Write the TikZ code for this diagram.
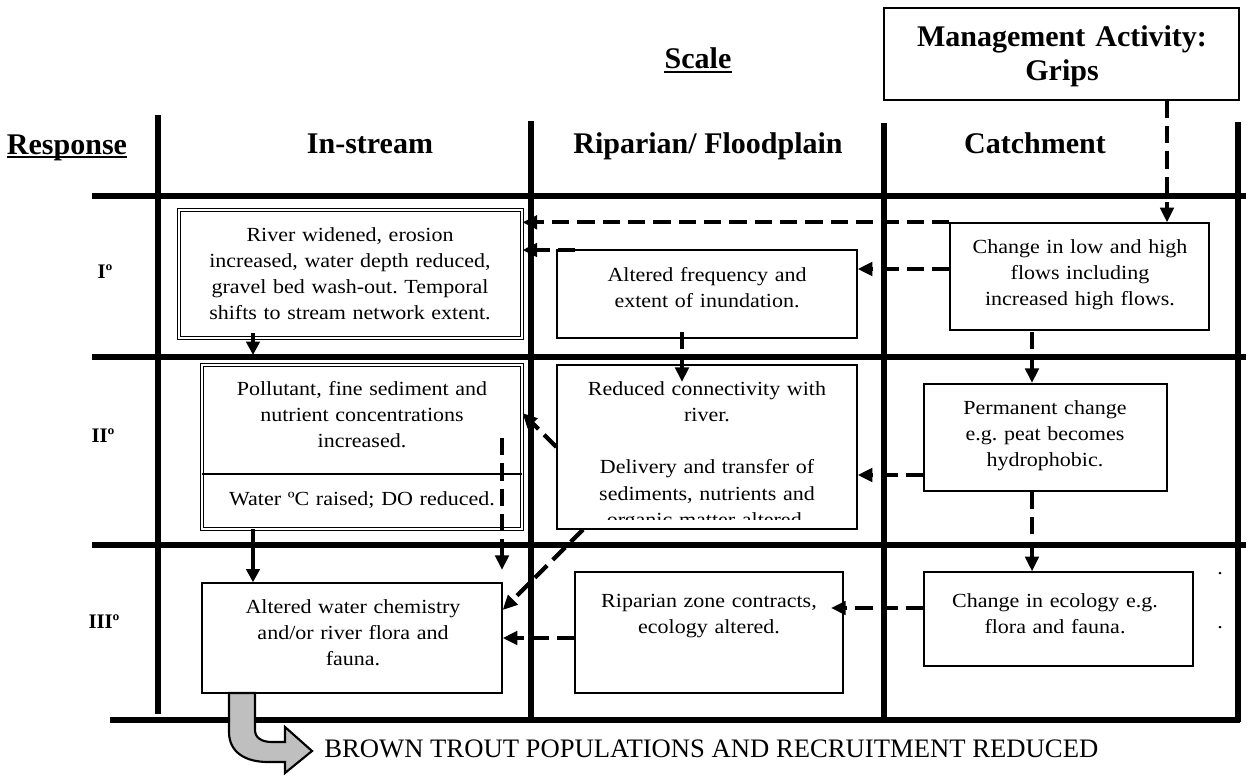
\documentclass[tikz,border=0pt]{standalone}
\usepackage{fontspec}
\setmainfont{Liberation Serif}
\newfontfamily\bodyfont{Liberation Serif}[FakeStretch=1.1]
\usetikzlibrary{arrows.meta,fit}
\begin{document}
\begin{tikzpicture}[x=0.75pt,y=-0.75pt,
  gridline/.style={line width=4pt},
  box/.style={draw,line width=1pt,fill=white,inner sep=0pt},
  dbox/.style={draw,double,double distance=1.1pt,line width=0.6pt,fill=white,inner sep=0pt},
  txt/.style={anchor=base,align=center,text width=280pt,inner sep=0pt,font=\bodyfont\fontsize{15}{19.7}\selectfont\frenchspacing},
  hdr/.style={anchor=base,inner sep=0pt,font=\fontsize{22.5}{25.5}\selectfont\bfseries},
  rowlab/.style={anchor=base,inner sep=0pt,font=\fontsize{15.5}{18}\selectfont\bfseries},
  darr/.style={line width=3.2pt,dash pattern=on 13pt off 6pt,-{Triangle[length=11pt,width=10pt]}},
  sarr/.style={line width=2.5pt,-{Triangle[length=10pt,width=10pt]}},
]
\useasboundingbox (0,0) rectangle (1248,775);

% grid
\draw[gridline] (158,115) -- (158,714);
\draw[gridline] (531,121) -- (531,720);
\draw[gridline] (884,123) -- (884,720);
\draw[gridline] (1238,122) -- (1238,722);
\draw[gridline] (92,196) -- (1246,196);
\draw[gridline] (92,357) -- (1246,357);
\draw[gridline] (92,545) -- (1246,545);
\draw[gridline] (110,720) -- (1240,720);

% headers
\node[hdr] (scl) at (698,68) {Scale};
\draw[line width=1.5pt] ([yshift=-3pt]scl.base west) -- ([yshift=-3pt]scl.base east);
\node[box, fit={(884,8) (1239,100)}] (M) {};
\node[hdr,align=center,text width=330pt] (Mt) at (1062,46) {Management Activity:\\Grips};
\node[hdr] (resp) at (67,154) {Response};
\draw[line width=1.5pt] ([yshift=-2.5pt]resp.base west) -- ([yshift=-2.5pt]resp.base east);
\node[hdr] (h1) at (370,153) {In-stream};
\node[hdr] (h2) at (708,153) {Riparian/ Floodplain};
\node[hdr] (h3) at (1035,153) {Catchment};

% row labels
\node[rowlab] (r1) at (105,278) {Iº};
\node[rowlab] (r2) at (103,442) {IIº};
\node[rowlab] (r3) at (104,628) {IIIº};

% boxes
\node[dbox, fit={(179,210) (522,338)}] (B1) {};
\node[box, fit={(557,250) (857,338)}] (B2) {};
\node[box, fit={(557,365) (857,529)}] (B3) {};
\node[box, fit={(950,223) (1209,330)}] (B4) {};
\node[box, fit={(924,384) (1167,491)}] (B5) {};
\node[dbox, fit={(202,365) (522,529)}] (B6) {};
\draw[line width=1pt] (B6.west |- 0,474) -- (B6.east |- 0,474);
\node[box, fit={(202,583) (502,693)}] (B7) {};
\node[box, fit={(575,572) (843,693)}] (B8) {};
\node[box, fit={(924,572) (1193,666)}] (B9) {};

% texts
\node[txt] (B1t) at (350,241) {River widened, erosion\\increased, water depth reduced,\\gravel bed wash-out. Temporal\\shifts to stream network extent.};
\node[txt] (B2t) at (707,281) {Altered frequency and\\extent of inundation.};
\node[txt] (B4t) at (1080,253) {Change in low and high\\flows including\\increased high flows.};
\node[txt] (B6t) at (362,395) {Pollutant, fine sediment and\\nutrient concentrations\\increased.};
\node[txt] (B6u) at (362,505) {Water ºC raised; DO reduced.};
\begin{scope}
\clip (557,365) rectangle (857,519);
\node[txt] (B3t) at (707,395) {Reduced connectivity with\\river.\\[19.7pt]Delivery and transfer of\\sediments, nutrients and\\organic matter altered.};
\end{scope}
\node[txt] (B5t) at (1045,414) {Permanent change\\e.g. peat becomes\\hydrophobic.};
\node[txt] (B7t) at (353,613) {Altered water chemistry\\and/or river flora and\\fauna.};
\node[txt] (B8t) at (709,607) {Riparian zone contracts,\\ecology altered.};
\node[txt] (B9t) at (1055,607) {Change in ecology e.g.\\flora and fauna.};
\node[txt,text width=10pt] (p1) at (1220,574) {.};
\node[txt,text width=10pt] (p2) at (1220,628) {.};

% connector coordinates
\coordinate (c3) at (575,250);
\coordinate (a5s) at (253,333);
\coordinate (a5e) at (253,355);
\coordinate (a6s) at (682,332);
\coordinate (a6e) at (682,382);
\coordinate (a7s) at (1032,332);
\coordinate (a7e) at (1032,383);
\coordinate (a11s) at (502,438);
\coordinate (a11e) at (502,570);
\coordinate (a14e) at (831,608);

% arrows
\draw[darr] (M.south -| 1167,0) -- (B4.north -| 1167,0);
\draw[darr] (B4.north west) -- (B1.east |- B4.north west);
\draw[darr] (c3) -- (B1.east |- c3);
\draw[darr] (B4.west |- 0,269) -- (B2.east |- 0,269);
\draw[sarr] (a5s) -- (a5e);
\draw[darr] (a6s) -- (a6e);
\draw[darr] (a7s) -- (a7e);
\draw[darr] (B5.west |- 0,475) -- (B3.east |- 0,475);
\draw[darr] (B3.west |- 0,447) -- (B6.east |- 0,413);
\draw[darr] (B3.south -| 583,0) -- (B7.east |- 0,610);
\draw[darr] (a11s) -- (a11e);
\draw[sarr] (B6.south -| 253,0) -- (B7.north -| 253,0);
\draw[darr] (B5.south -| 1032,0) -- (B9.north -| 1032,0);
\draw[darr] (B9.west |- 0,608) -- (a14e);
\draw[darr] (B8.west |- 0,638) -- (B7.east |- 0,638);

% bent grey arrow
\draw[line width=1.6pt,fill=black!25,line join=miter]
  (229,693) -- (229,732) .. controls (229,752) and (245,762) .. (268,762)
  -- (285,762) -- (285,773) -- (312,751) -- (285,727) -- (285,742) -- (272,742)
  .. controls (262,742) and (255,738) .. (255,730) -- (255,693) -- cycle;
\node[anchor=base west,inner sep=0pt,font=\fontsize{20}{24}\selectfont] (bt) at (324,757) {BROWN TROUT POPULATIONS AND RECRUITMENT REDUCED};
\end{tikzpicture}
\end{document}
